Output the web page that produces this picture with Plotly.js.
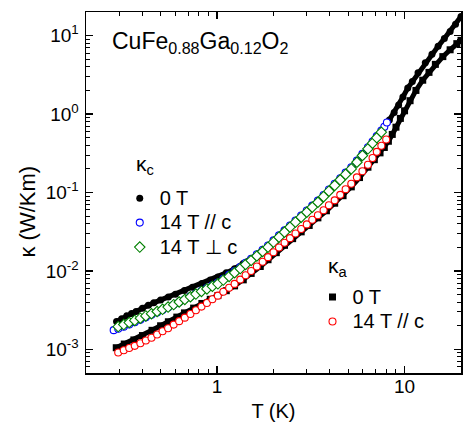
<!DOCTYPE html>
<html>
<head>
<meta charset="utf-8">
<script src="https://cdn.plot.ly/plotly-3.0.1.min.js"></script>
<style>html,body{margin:0;padding:0;background:#fff;}#plot{width:463px;height:430px;}</style>
</head>
<body>
<div id="plot"></div>
<script>
// ---- data (T in K, kappa in W/Km) ----
// kappa_c, 0 T (black filled circles)
const T_c0 = [0.291,0.31,0.33,0.35,0.37,0.40,0.43,0.46,0.50,0.55,0.60,0.67,0.74,0.83,0.92,1.01,1.12,1.24,1.38,1.52,1.70,1.87,2.07,2.29,2.6,3.0,3.5,4.0,4.6,5.2,5.9,6.6,7.2,7.8,8.3,8.8,9.3,9.8,10.4,11.0,11.8,12.9,14.0,15.1,16.3,17.5,18.7,20.0];
const k_c0 = [2.27e-3,2.46e-3,2.68e-3,2.86e-3,3.05e-3,3.35e-3,3.64e-3,3.92e-3,4.26e-3,4.66e-3,5.05e-3,5.62e-3,6.2e-3,6.93e-3,7.65e-3,8.35e-3,9.45e-3,1.07e-2,1.24e-2,1.43e-2,1.71e-2,2.01e-2,2.42e-2,2.97e-2,4.1e-2,5.5e-2,7.7e-2,0.106,0.148,0.200,0.285,0.40,0.515,0.68,0.84,1.05,1.30,1.65,2.15,2.6,3.35,4.5,5.8,7.3,9.2,11.3,14.0,17.5];

// kappa_c, 14 T // c (blue open circles)
const T_c14par = [0.281,0.297,0.318,0.340,0.364,0.390,0.417,0.447,0.479,0.512,0.548,0.587,0.628,0.673,0.721,0.771,0.826,0.883,0.944,1.01,1.08,1.16,1.24,1.33,1.42,1.52,1.63,1.75,1.87,2.00,2.14,2.29,2.45,2.62,2.81,3.01,3.22,3.45,3.70,3.95,4.24,4.54,4.85,5.20,5.57,5.96,6.38,6.75,7.11,7.52,7.80,8.05];
const k_c14par = [1.76e-3,1.83e-3,1.95e-3,2.08e-3,2.22e-3,2.38e-3,2.56e-3,2.76e-3,2.96e-3,3.18e-3,3.42e-3,3.70e-3,4.02e-3,4.36e-3,4.74e-3,5.15e-3,5.60e-3,6.05e-3,6.55e-3,7.10e-3,7.95e-3,8.90e-3,9.95e-3,1.12e-2,1.27e-2,1.43e-2,1.63e-2,1.86e-2,2.11e-2,2.45e-2,2.84e-2,3.29e-2,3.80e-2,4.40e-2,5.09e-2,5.89e-2,6.81e-2,7.88e-2,9.29e-2,0.109,0.129,0.152,0.179,0.210,0.255,0.311,0.378,0.446,0.523,0.616,0.69,0.78];

// kappa_c, 14 T perpendicular to c (green open diamonds)
const T_c14perp = [0.297,0.318,0.340,0.364,0.390,0.417,0.447,0.479,0.512,0.548,0.587,0.628,0.673,0.721,0.771,0.826,0.883,0.944,1.01,1.08,1.16,1.24,1.33,1.42,1.52,1.63,1.75,1.87,2.00,2.14,2.29,2.45,2.62,2.81,3.01,3.22,3.45,3.70,3.95,4.24,4.54,4.85,5.20,5.57,5.96,6.38,6.75,7.11,7.52];
const k_c14perp = [1.95e-3,2.07e-3,2.20e-3,2.34e-3,2.50e-3,2.67e-3,2.85e-3,3.04e-3,3.24e-3,3.46e-3,3.72e-3,4.02e-3,4.33e-3,4.68e-3,5.07e-3,5.48e-3,5.90e-3,6.37e-3,6.85e-3,7.64e-3,8.51e-3,9.48e-3,1.07e-2,1.21e-2,1.36e-2,1.55e-2,1.77e-2,2.01e-2,2.33e-2,2.70e-2,3.13e-2,3.62e-2,4.19e-2,4.85e-2,5.61e-2,6.49e-2,7.50e-2,8.85e-2,0.104,0.123,0.145,0.170,0.200,0.243,0.296,0.360,0.425,0.498,0.587];

// kappa_a, 0 T (black filled squares)
const T_a0 = [0.29,0.32,0.36,0.40,0.45,0.50,0.55,0.61,0.67,0.75,0.83,0.92,1.01,1.12,1.24,1.38,1.52,1.70,1.87,2.07,2.29,2.53,2.81,3.10,3.45,3.83,4.24,4.70,5.20,5.75,6.38,6.90,7.40,7.80,8.2,8.6,9.0,9.5,10.0,10.7,11.5,12.5,13.5,14.6,16.0,17.5,19.0,20.0];
const k_a0 = [1.05e-3,1.17e-3,1.32e-3,1.50e-3,1.75e-3,2.00e-3,2.25e-3,2.58e-3,2.92e-3,3.36e-3,3.85e-3,4.35e-3,4.85e-3,5.60e-3,6.45e-3,7.70e-3,9.30e-3,1.14e-2,1.39e-2,1.71e-2,2.12e-2,2.58e-2,3.15e-2,3.80e-2,4.75e-2,5.85e-2,7.30e-2,9.10e-2,0.118,0.155,0.210,0.262,0.320,0.375,0.45,0.55,0.68,0.88,1.10,1.48,2.00,2.70,3.40,4.30,5.40,6.60,7.90,8.70];

// kappa_a, 14 T // c (red open circles)
const T_a14par = [0.297,0.318,0.340,0.364,0.390,0.417,0.447,0.479,0.512,0.548,0.587,0.628,0.673,0.721,0.771,0.826,0.883,0.944,1.01,1.08,1.16,1.24,1.33,1.42,1.52,1.63,1.75,1.87,2.00,2.14,2.29,2.45,2.62,2.81,3.01,3.22,3.45,3.70,3.95,4.24,4.54,4.85,5.20,5.57,5.96,6.38,6.75,7.11,7.52,7.98];
const k_a14par = [9.12e-4,9.73e-4,1.04e-3,1.11e-3,1.20e-3,1.30e-3,1.41e-3,1.55e-3,1.70e-3,1.86e-3,2.07e-3,2.29e-3,2.54e-3,2.83e-3,3.15e-3,3.51e-3,3.91e-3,4.35e-3,4.84e-3,5.43e-3,6.10e-3,6.84e-3,7.76e-3,8.81e-3,1.00e-2,1.14e-2,1.31e-2,1.50e-2,1.73e-2,1.99e-2,2.29e-2,2.62e-2,3.00e-2,3.43e-2,3.92e-2,4.49e-2,5.13e-2,5.93e-2,6.87e-2,7.94e-2,9.33e-2,0.110,0.129,0.156,0.187,0.226,0.275,0.330,0.394,0.473];

// axis ticks and labels
const xTickVals = [1, 10];
const xTickText = ['1', '10'];
const yTickVals = [1e-3, 1e-2, 1e-1, 1, 10];
const yTickText = ['10<sup>-3</sup>','10<sup>-2</sup>','10<sup>-1</sup>','10<sup>0</sup>','10<sup>1</sup>'];

const FONT = 'Liberation Sans, Arial, Helvetica, sans-serif';
const lg = s => '<span style="font-size:20px">' + s + '</span>';

const traces = [
  {x: T_a0, y: k_a0, mode: 'lines', line: {color: '#000', width: 5}, showlegend: false, hoverinfo: 'skip'},
  {x: T_a0, y: k_a0, mode: 'markers', name: lg('0 T'), legend: 'legend2',
   marker: {symbol: 'square', size: 7, color: '#000'}},
  {x: T_c0, y: k_c0, mode: 'lines', line: {color: '#000', width: 5}, showlegend: false, hoverinfo: 'skip'},
  {x: T_c0, y: k_c0, mode: 'markers', name: lg('0 T'), legend: 'legend',
   marker: {symbol: 'circle', size: 7, color: '#000'}},
  {x: T_c14par, y: k_c14par, mode: 'markers', name: lg('14 T // c'), legend: 'legend',
   marker: {symbol: 'circle', size: 7, color: '#fff', line: {color: '#0000ff', width: 1.1}}},
  {x: T_c14perp, y: k_c14perp, mode: 'markers', name: lg('14 T \u22A5 c'), legend: 'legend',
   marker: {symbol: 'diamond', size: 8, color: '#fff', line: {color: '#008000', width: 1.1}}},
  {x: T_a14par, y: k_a14par, mode: 'markers', name: lg('14 T // c'), legend: 'legend2',
   marker: {symbol: 'circle', size: 7, color: '#fff', line: {color: '#ff0000', width: 1.1}}}
];

const axisCommon = {
  type: 'log', showline: true, linecolor: '#000', linewidth: 1.5, mirror: 'ticks',
  ticks: 'inside', ticklen: 7, tickwidth: 1.2, tickcolor: '#000',
  showgrid: false, zeroline: false,
  tickfont: {family: FONT, size: 19, color: '#000'},
  minor: {ticks: 'inside', ticklen: 4, tickwidth: 1, tickcolor: '#000', dtick: 'D1', showgrid: false}
};

const layout = {
  width: 463, height: 430,
  margin: {l: 86, r: 2, t: 12, b: 57, pad: 0},
  paper_bgcolor: '#fff', plot_bgcolor: '#fff',
  font: {family: FONT, size: 19, color: '#000'},
  xaxis: Object.assign({}, axisCommon, {
    range: [Math.log10(0.2), Math.log10(20)],
    tickmode: 'array', tickvals: xTickVals, ticktext: xTickText,
    ticklabelstandoff: -4,
    title: {text: 'T (K)', font: {family: FONT, size: 20}, standoff: 7}
  }),
  yaxis: Object.assign({}, axisCommon, {
    range: [Math.log10(5e-4), Math.log10(20)],
    tickmode: 'array', tickvals: yTickVals, ticktext: yTickText,
    ticklabelstandoff: 2
  }),
  legend: {x: 0.090, y: 0.532, xanchor: 'left', yanchor: 'top', bgcolor: 'rgba(0,0,0,0)',
           font: {family: FONT, size: 16.5}, itemwidth: 30, traceorder: 'normal'},
  legend2: {x: 0.604, y: 0.258, xanchor: 'left', yanchor: 'top', bgcolor: 'rgba(0,0,0,0)',
           font: {family: FONT, size: 16.5}, itemwidth: 30, traceorder: 'normal'},
  annotations: [
    {xref: 'paper', yref: 'paper', x: 0.064, y: 0.915, xanchor: 'left', yanchor: 'middle', showarrow: false,
     text: 'CuFe<sub>0.88</sub>Ga<sub>0.12</sub>O<sub>2</sub>', font: {family: FONT, size: 23}},
    {xref: 'paper', yref: 'paper', x: 0.128, y: 0.576, xanchor: 'left', yanchor: 'middle', showarrow: false,
     text: '\u03BA<sub>c</sub>', font: {family: FONT, size: 21}},
    {xref: 'paper', yref: 'paper', x: 0.640, y: 0.293, xanchor: 'left', yanchor: 'middle', showarrow: false,
     text: '\u03BA<sub>a</sub>', font: {family: FONT, size: 21}},
    {xref: 'paper', yref: 'paper', x: -0.155, y: 0.447, xanchor: 'center', yanchor: 'middle', showarrow: false,
     textangle: -90, text: '\u03BA (W/Km)', font: {family: FONT, size: 22}}
  ]
};

Plotly.newPlot('plot', traces, layout, {displayModeBar: false, staticPlot: true});
</script>
</body>
</html>
